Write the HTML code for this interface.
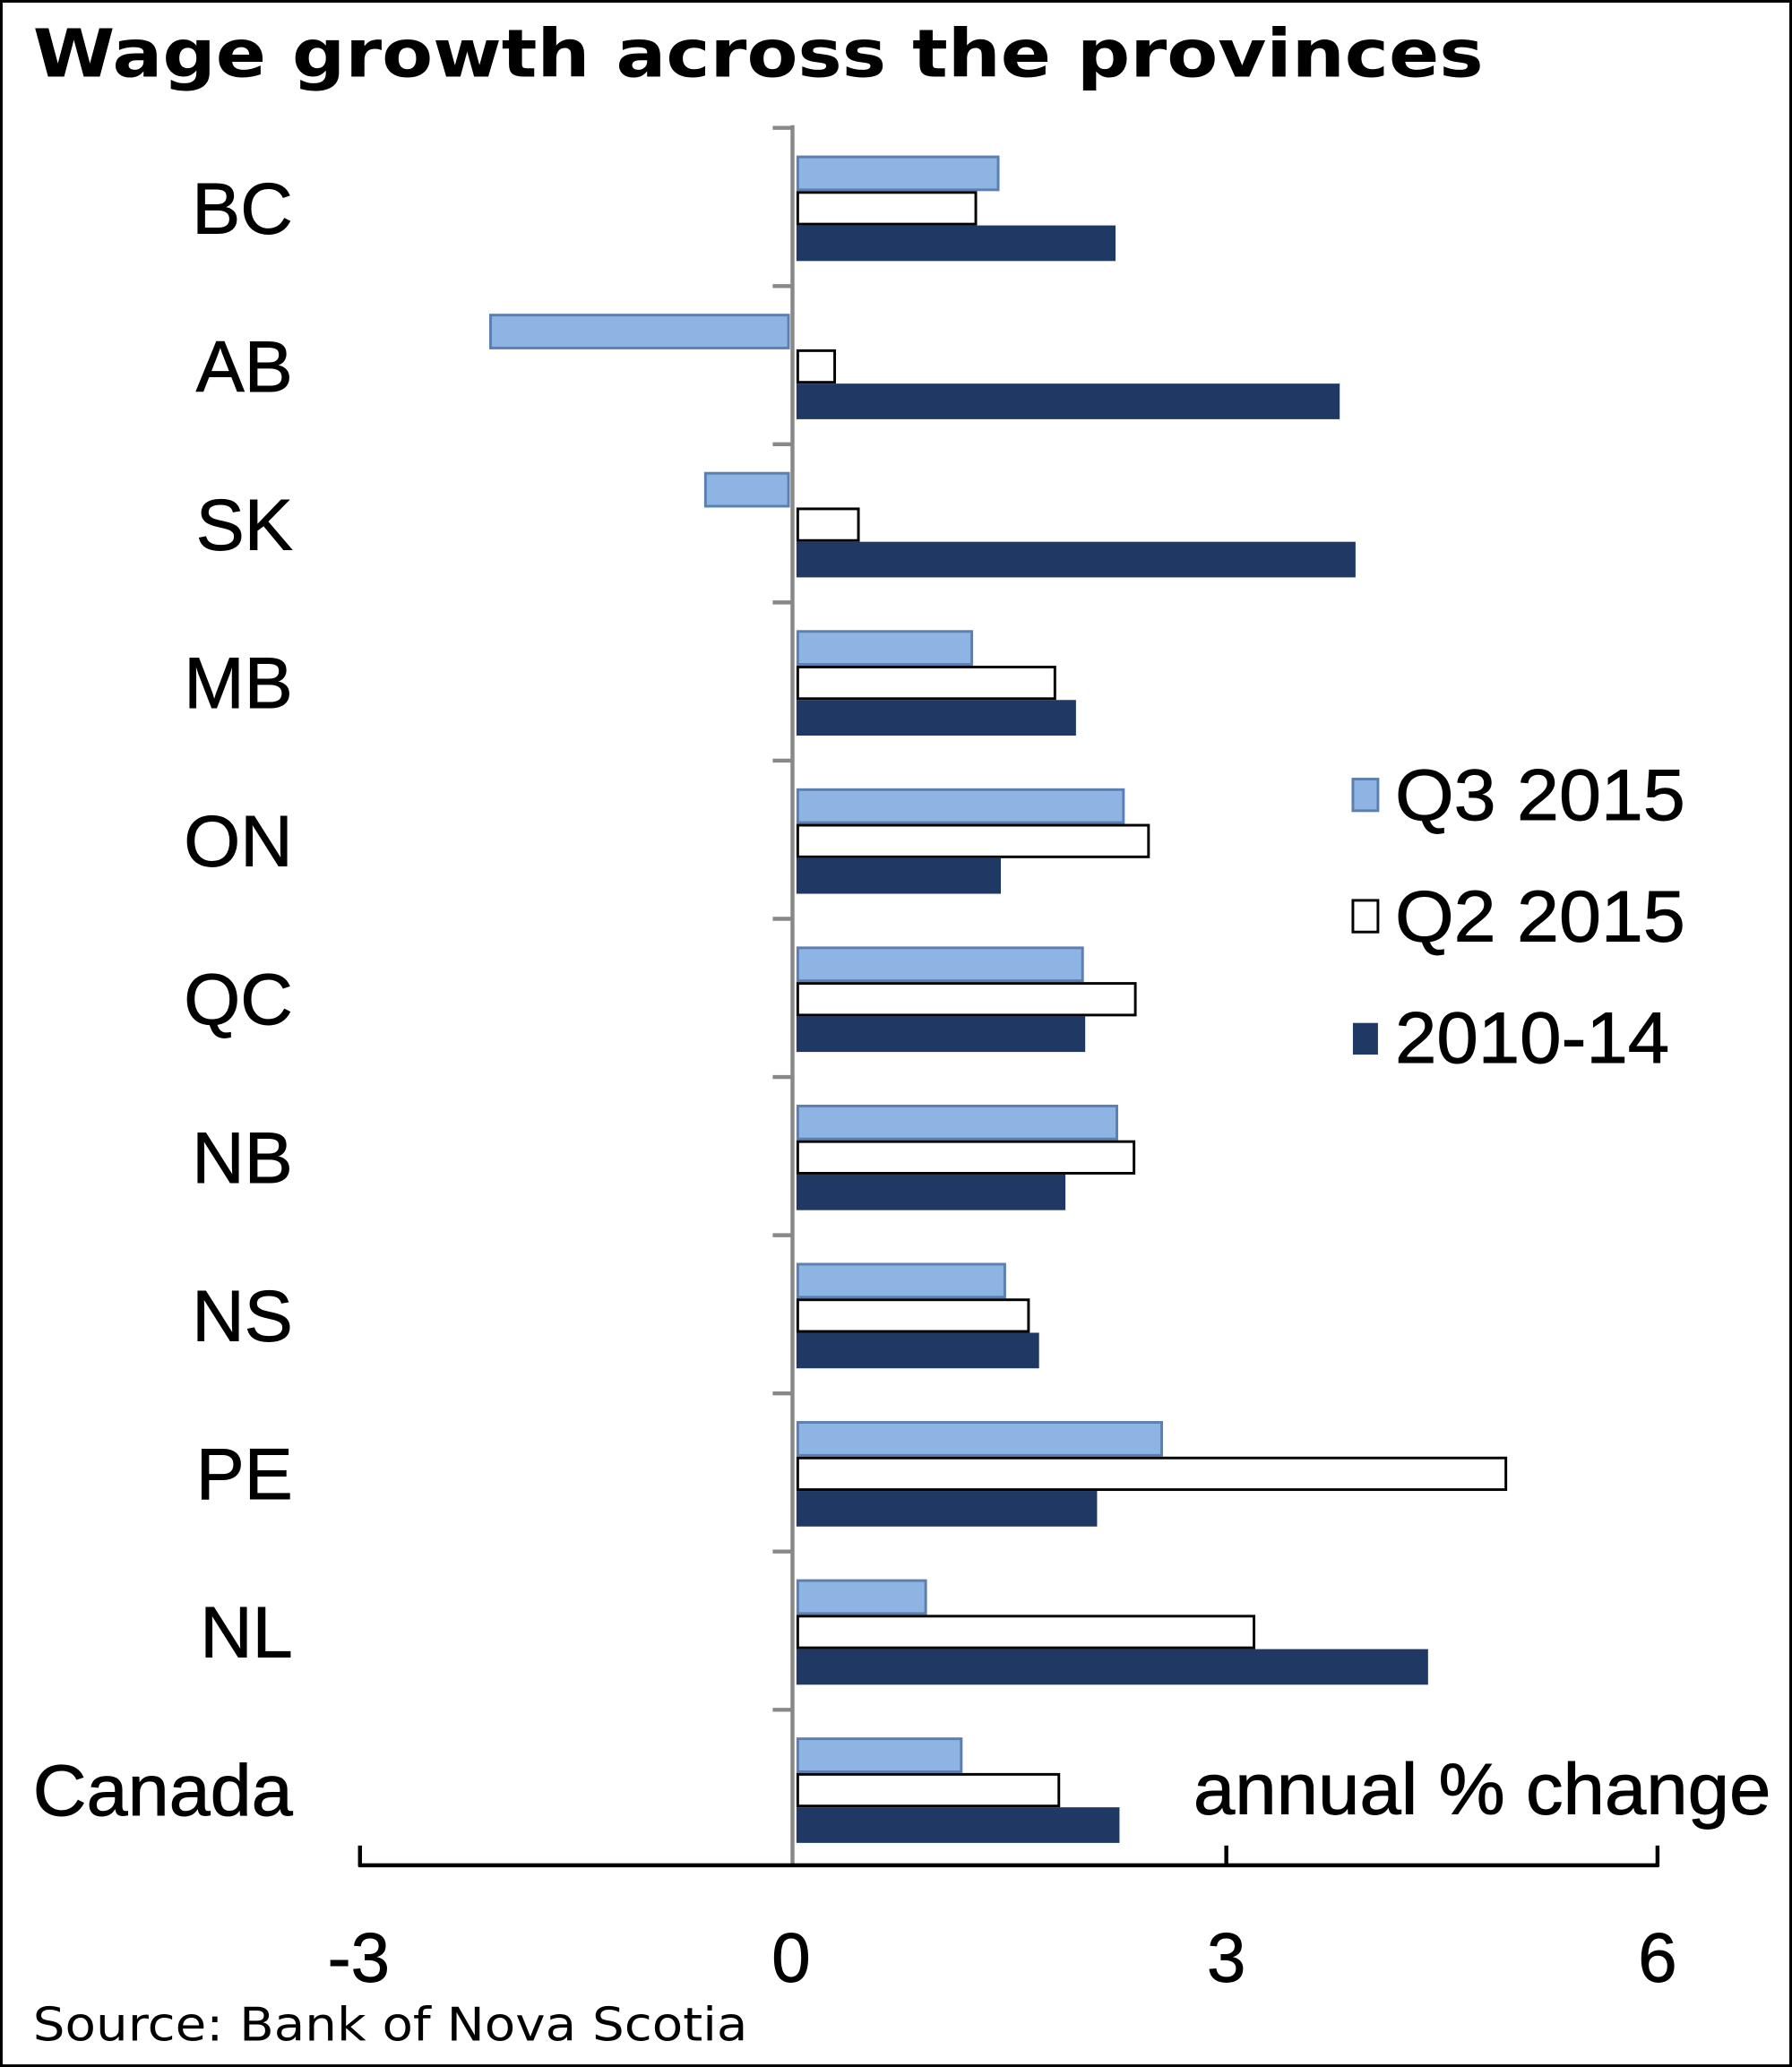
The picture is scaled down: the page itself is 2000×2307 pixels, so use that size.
<!DOCTYPE html>
<html><head><meta charset="utf-8"><style>
html,body{margin:0;padding:0;background:#fff;}
svg{display:block;}
</style></head><body>
<svg width="2000" height="2307" viewBox="0 0 1359 1568" preserveAspectRatio="none" xmlns="http://www.w3.org/2000/svg">
<rect x="1" y="1" width="1357" height="1566" fill="#fff" stroke="#000" stroke-width="2"/>
<text x="25" y="58" font-family="DejaVu Sans, sans-serif" font-weight="bold" font-size="50" textLength="1100" lengthAdjust="spacingAndGlyphs">Wage growth across the provinces</text>
<g font-family="Liberation Sans, sans-serif" font-size="55" text-anchor="end" fill="#000" stroke="#000" stroke-width="0.6">
<text x="222" y="177">BC</text><text x="222" y="297">AB</text><text x="222" y="417">SK</text>
<text x="222" y="537">MB</text><text x="222" y="657">ON</text><text x="222" y="777">QC</text>
<text x="222" y="897">NB</text><text x="222" y="1017">NS</text><text x="222" y="1137">PE</text>
<text x="222" y="1257">NL</text><text x="222" y="1377" textLength="197" lengthAdjust="spacingAndGlyphs">Canada</text>
</g>
<g id="bars" stroke-width="2">
<rect x="605" y="119" width="152" height="25" fill="#8eb4e3" stroke="#5a7fb0"/>
<rect x="605" y="146" width="135" height="24" fill="#fff" stroke="#000"/>
<rect x="605" y="172" width="240" height="25" fill="#1f3864" stroke="#1f3864"/>
<rect x="372" y="239" width="226" height="25" fill="#8eb4e3" stroke="#5a7fb0"/>
<rect x="605" y="266" width="28" height="24" fill="#fff" stroke="#000"/>
<rect x="605" y="292" width="410" height="25" fill="#1f3864" stroke="#1f3864"/>
<rect x="535" y="359" width="63" height="25" fill="#8eb4e3" stroke="#5a7fb0"/>
<rect x="605" y="386" width="46" height="24" fill="#fff" stroke="#000"/>
<rect x="605" y="412" width="422" height="25" fill="#1f3864" stroke="#1f3864"/>
<rect x="605" y="479" width="132" height="25" fill="#8eb4e3" stroke="#5a7fb0"/>
<rect x="605" y="506" width="195" height="24" fill="#fff" stroke="#000"/>
<rect x="605" y="532" width="210" height="25" fill="#1f3864" stroke="#1f3864"/>
<rect x="605" y="599" width="247" height="25" fill="#8eb4e3" stroke="#5a7fb0"/>
<rect x="605" y="626" width="266" height="24" fill="#fff" stroke="#000"/>
<rect x="605" y="652" width="153" height="25" fill="#1f3864" stroke="#1f3864"/>
<rect x="605" y="719" width="216" height="25" fill="#8eb4e3" stroke="#5a7fb0"/>
<rect x="605" y="746" width="256" height="24" fill="#fff" stroke="#000"/>
<rect x="605" y="772" width="217" height="25" fill="#1f3864" stroke="#1f3864"/>
<rect x="605" y="839" width="242" height="25" fill="#8eb4e3" stroke="#5a7fb0"/>
<rect x="605" y="866" width="255" height="24" fill="#fff" stroke="#000"/>
<rect x="605" y="892" width="202" height="25" fill="#1f3864" stroke="#1f3864"/>
<rect x="605" y="959" width="157" height="25" fill="#8eb4e3" stroke="#5a7fb0"/>
<rect x="605" y="986" width="175" height="24" fill="#fff" stroke="#000"/>
<rect x="605" y="1012" width="182" height="25" fill="#1f3864" stroke="#1f3864"/>
<rect x="605" y="1079" width="276" height="25" fill="#8eb4e3" stroke="#5a7fb0"/>
<rect x="605" y="1106" width="537" height="24" fill="#fff" stroke="#000"/>
<rect x="605" y="1132" width="226" height="25" fill="#1f3864" stroke="#1f3864"/>
<rect x="605" y="1199" width="97" height="25" fill="#8eb4e3" stroke="#5a7fb0"/>
<rect x="605" y="1226" width="346" height="24" fill="#fff" stroke="#000"/>
<rect x="605" y="1252" width="477" height="25" fill="#1f3864" stroke="#1f3864"/>
<rect x="605" y="1319" width="124" height="25" fill="#8eb4e3" stroke="#5a7fb0"/>
<rect x="605" y="1346" width="198" height="24" fill="#fff" stroke="#000"/>
<rect x="605" y="1372" width="243" height="25" fill="#1f3864" stroke="#1f3864"/>
</g>
<g stroke="#888" stroke-width="3">
<line x1="601" y1="95" x2="601" y2="1416"/>
<line x1="586" y1="97" x2="601" y2="97"/><line x1="586" y1="217" x2="601" y2="217"/>
<line x1="586" y1="337" x2="601" y2="337"/><line x1="586" y1="457" x2="601" y2="457"/>
<line x1="586" y1="577" x2="601" y2="577"/><line x1="586" y1="697" x2="601" y2="697"/>
<line x1="586" y1="817" x2="601" y2="817"/><line x1="586" y1="937" x2="601" y2="937"/>
<line x1="586" y1="1057" x2="601" y2="1057"/><line x1="586" y1="1177" x2="601" y2="1177"/>
<line x1="586" y1="1297" x2="601" y2="1297"/>
</g>
<g stroke="#000" stroke-width="3">
<line x1="272" y1="1415" x2="1258" y2="1415"/>
<line x1="273" y1="1400" x2="273" y2="1416"/><line x1="930" y1="1400" x2="930" y2="1416"/>
<line x1="1257" y1="1400" x2="1257" y2="1416"/>
</g>
<g font-family="Liberation Sans, sans-serif" font-size="53" text-anchor="middle" stroke="#000" stroke-width="0.6">
<text x="272" y="1503">-3</text><text x="600" y="1503">0</text>
<text x="930" y="1503">3</text><text x="1257" y="1503">6</text>
</g>
<rect x="1026" y="591" width="19" height="24" fill="#8eb4e3" stroke="#5a7fb0" stroke-width="2"/>
<rect x="1026" y="683" width="19" height="24" fill="#fff" stroke="#000" stroke-width="2"/>
<rect x="1026" y="776" width="19" height="24" fill="#1f3864"/>
<g font-family="Liberation Sans, sans-serif" font-size="55" stroke="#000" stroke-width="0.6">
<text x="1058" y="622" textLength="220" lengthAdjust="spacingAndGlyphs">Q3 2015</text>
<text x="1058" y="714" textLength="220" lengthAdjust="spacingAndGlyphs">Q2 2015</text>
<text x="1058" y="806" textLength="208" lengthAdjust="spacingAndGlyphs">2010-14</text>
<text x="905" y="1376" textLength="438" lengthAdjust="spacingAndGlyphs">annual % change</text>
</g>
<text x="25" y="1548" font-family="DejaVu Sans, sans-serif" font-size="35" textLength="542" lengthAdjust="spacingAndGlyphs">Source: Bank of Nova Scotia</text>
</svg>
</body></html>
